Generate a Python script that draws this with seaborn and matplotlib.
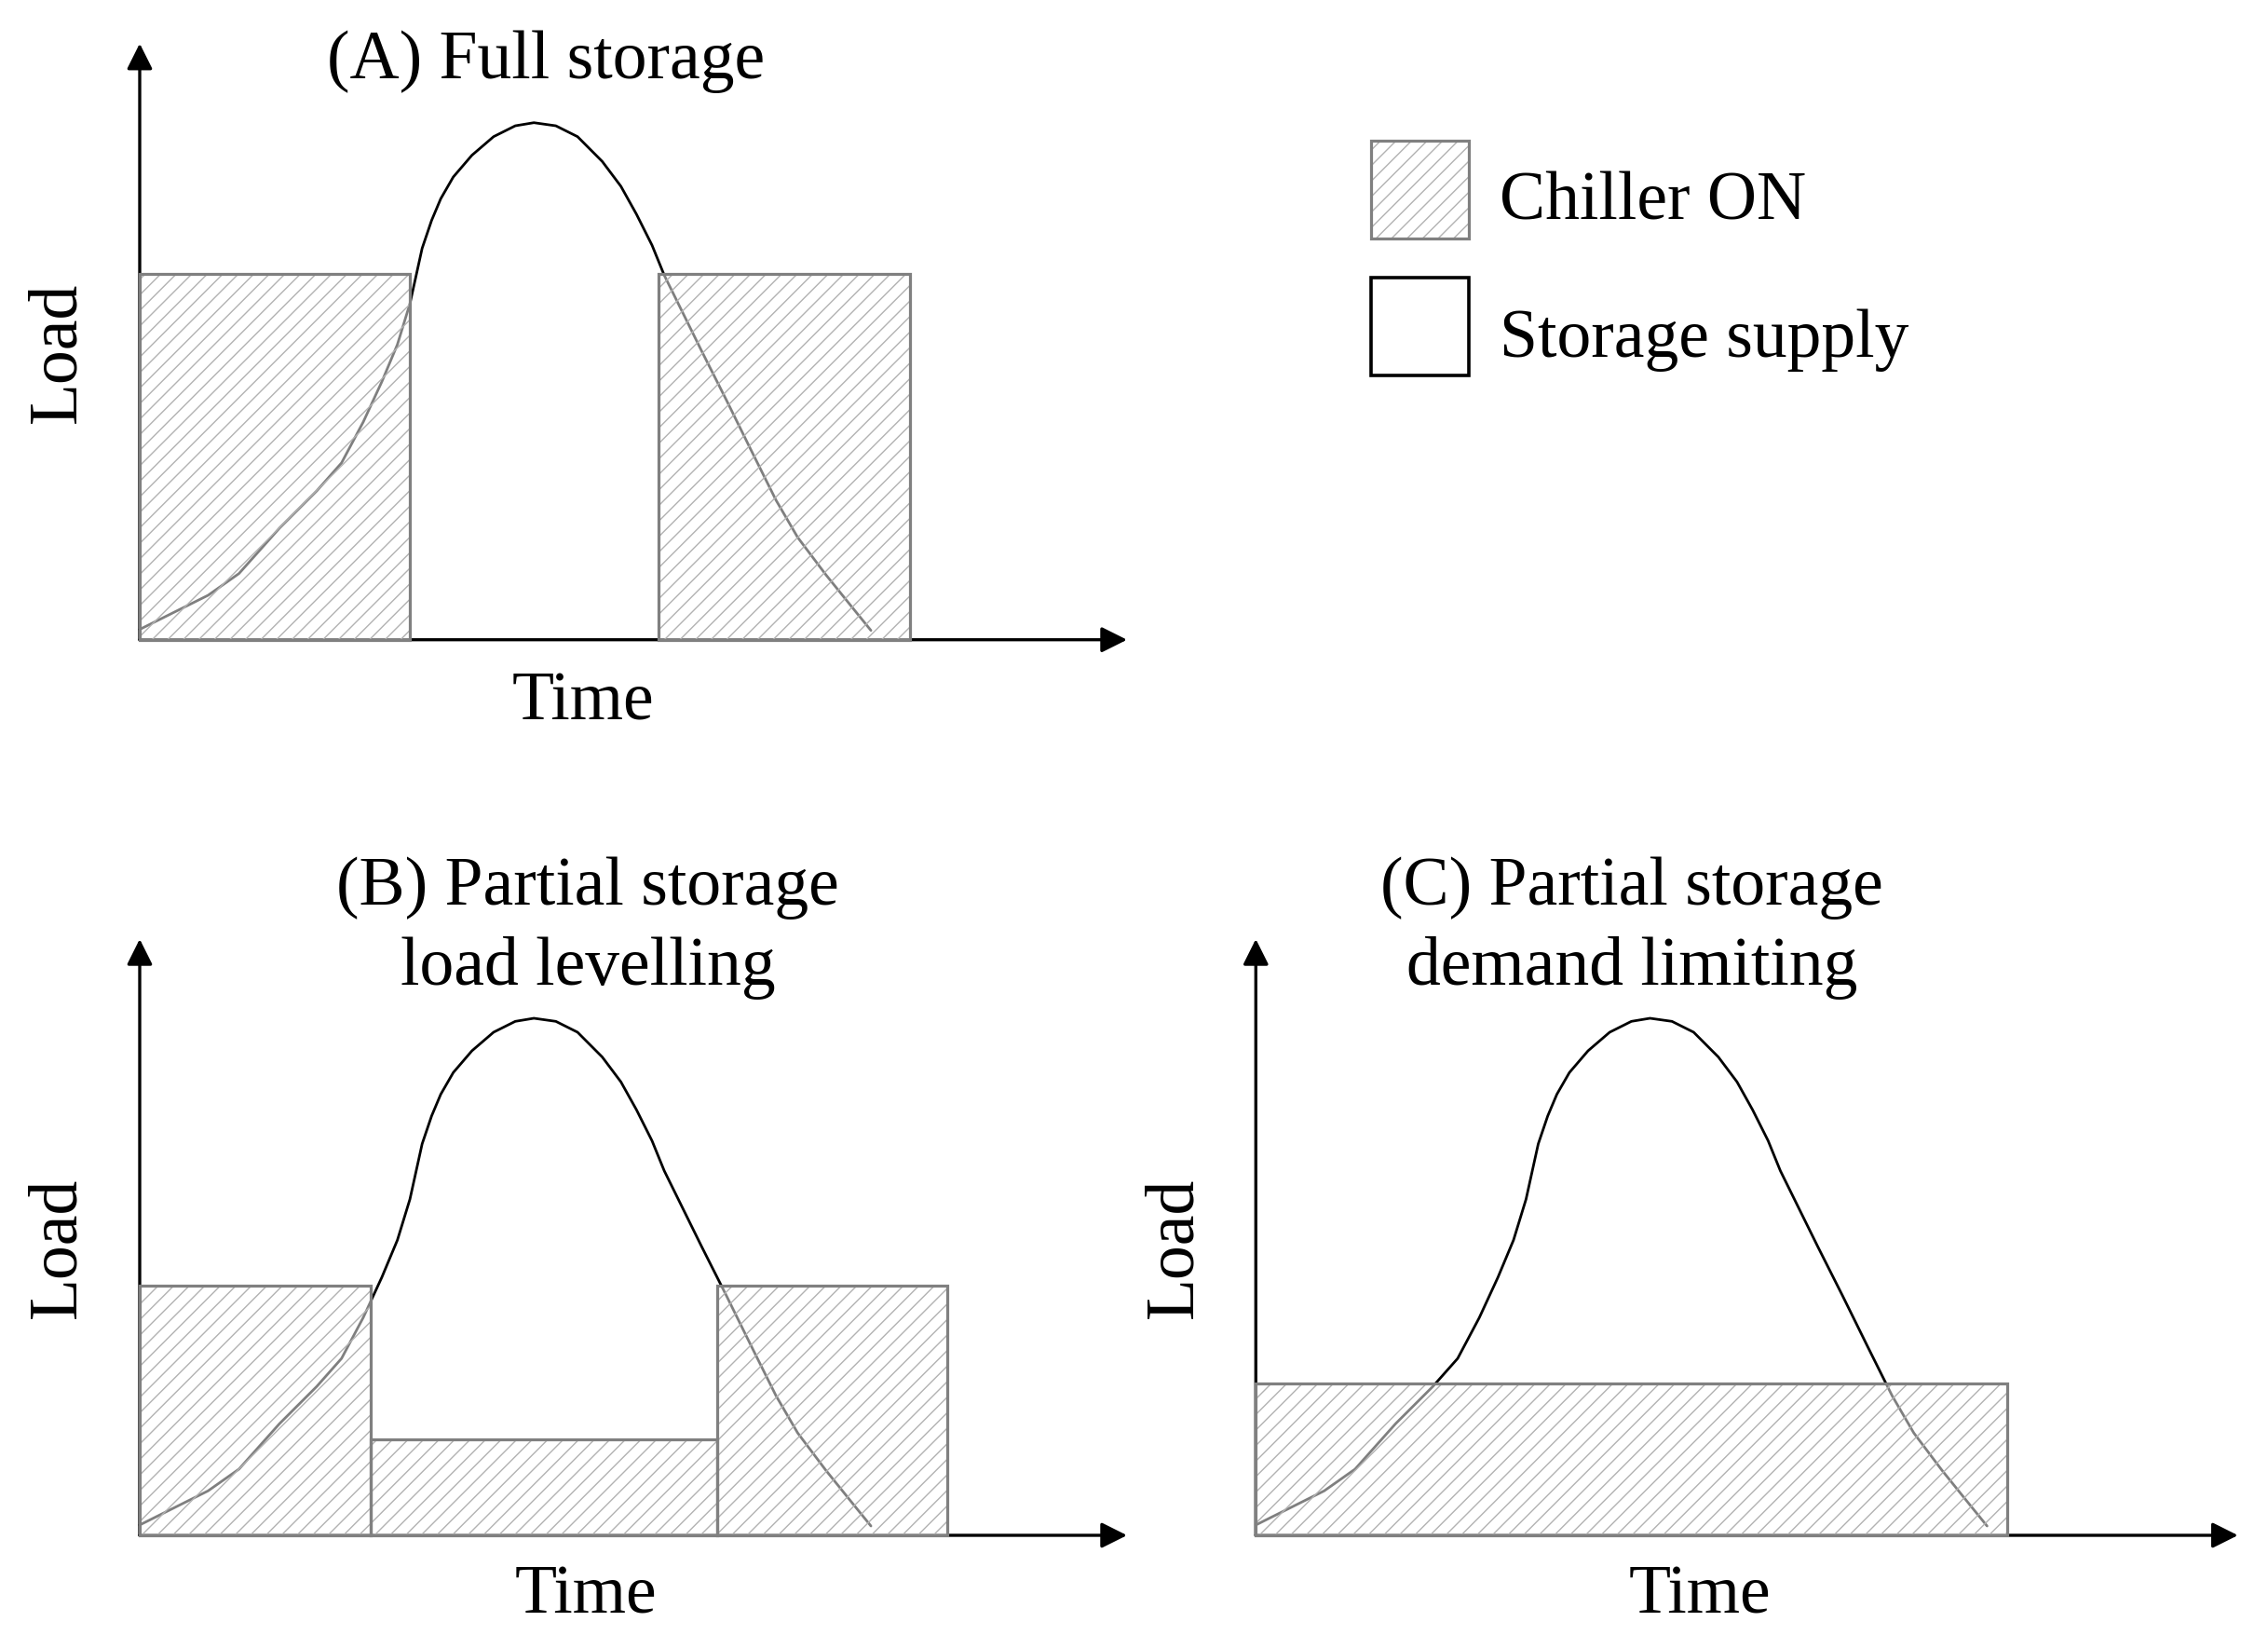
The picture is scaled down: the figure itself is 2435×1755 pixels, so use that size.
import matplotlib
matplotlib.use("Agg")
import matplotlib.pyplot as plt
import seaborn as sns
import pandas as pd
from matplotlib.patches import Patch
from matplotlib.legend_handler import HandlerTuple
from matplotlib.transforms import Affine2D

# ---- data (time in hours, load normalised to peak) ----
curve_time = [0, 2.24, 3.25, 4.58, 5.19, 5.80, 6.61, 7.32, 7.93, 8.44, 8.85, 9.25, 9.56,
              9.86, 10.27, 10.88, 11.59, 12.30, 12.91, 13.63, 14.34, 15.15, 15.76, 16.27,
              16.78, 17.18, 18.40, 19.22, 20.03, 20.84, 21.55, 22.47, 23.29, 23.95]
curve_load = [0.020, 0.086, 0.128, 0.216, 0.252, 0.288, 0.342, 0.421, 0.499, 0.571, 0.650,
              0.757, 0.811, 0.853, 0.895, 0.937, 0.973, 0.994, 1.0, 0.994, 0.973, 0.925,
              0.877, 0.823, 0.763, 0.705, 0.559, 0.463, 0.366, 0.270, 0.198, 0.126, 0.066,
              0.018]

a_left = [0, 17.0]
a_width = [8.85, 8.24]
a_height = [0.707, 0.707]

b_left = [0, 7.56, 18.91]
b_width = [7.56, 11.35, 7.55]
b_height = [0.482, 0.185, 0.482]

c_left = [0]
c_width = [24.6]
c_height = [0.294]

titles = ["(A) Full storage", "(B) Partial storage\nload levelling",
          "(C) Partial storage\ndemand limiting"]
legend_labels = ["Chiller ON", "Storage supply"]

sns.set_theme(style="white")
plt.rcParams["font.family"] = ["Liberation Serif", "DejaVu Serif"]
plt.rcParams["text.color"] = "black"
plt.rcParams["hatch.linewidth"] = 1.0

FS = 53
FW, FH = 2435.0, 1755.0
PX_X = 32.78   # pixels per hour
PX_Y = 555.0   # pixels per unit load
fig = plt.figure(figsize=(FW / 100, FH / 100), dpi=100)

curve_df = pd.DataFrame({"time": curve_time, "load": curve_load})


def make_axes(x0, y_bottom, width, height):
    ax = fig.add_axes([x0 / FW, 1 - y_bottom / FH, width / FW, height / FH])
    ax.set_xlim(0, width / PX_X)
    ax.set_ylim(0, height / PX_Y)
    return ax


axA = make_axes(150, 686.7, 1060, 640)
axB = make_axes(150, 1648.0, 1060, 640)
axC = make_axes(1348.3, 1648.0, 1054.4, 640)

panels = [
    (axA, a_left, a_width, a_height, 0.411, 0.969, 0.449, -0.107, 0.482),
    (axB, b_left, b_width, b_height, 0.454, 1.018, 0.452, -0.102, 0.482),
    (axC, c_left, c_width, c_height, 0.383, 1.018, 0.452, -0.102, 0.482),
]

for i, (ax, left, width, height, tx, ty, timex, timey, loady) in enumerate(panels):
    ax.axis("off")
    arrow_kw = dict(arrowstyle="-|>,head_length=0.6,head_width=0.3", color="black",
                    lw=2.4, mutation_scale=28, shrinkA=0, shrinkB=0)
    ax.annotate("", xy=(1, 0), xytext=(0, 0), xycoords="axes fraction",
                arrowprops=arrow_kw, zorder=1)
    ax.annotate("", xy=(0, 1), xytext=(0, 0), xycoords="axes fraction",
                arrowprops=arrow_kw, zorder=1)
    sns.lineplot(data=curve_df, x="time", y="load", ax=ax, color="black", lw=2.0,
                 sort=False, zorder=2, clip_on=False)
    ax.bar(left, height, width=width, align="edge", facecolor=(1, 1, 1, 0.5),
           edgecolor="#b2b2b2", hatch="//", linewidth=0, zorder=3)
    ax.bar(left, height, width=width, align="edge", facecolor="none",
           edgecolor="#808080", linewidth=2.3, zorder=4, clip_on=False)
    ax.text(tx, ty, titles[i], transform=ax.transAxes, ha="center", va="center",
            fontsize=FS, linespacing=1.34)
    ax.text(timex, timey, "Time", transform=ax.transAxes, ha="center", va="center",
            fontsize=FS)
    ax.text(-0.0825, loady, "Load", transform=ax.transAxes, ha="center", va="center",
            rotation=90, fontsize=FS)

# legend
hatch_patch = Patch(facecolor="white", edgecolor="#b2b2b2", hatch="//", linewidth=0)
outline_patch = Patch(facecolor="none", edgecolor="#808080", linewidth=2.3)
storage_patch = Patch(facecolor="white", edgecolor="black", linewidth=2.6)
leg = fig.legend(handles=[(hatch_patch, outline_patch), storage_patch], labels=legend_labels,
                 handler_map={tuple: HandlerTuple(ndivide=1, pad=0)},
                 loc="upper left", bbox_to_anchor=(943 / 1560, 1 - 97 / 1125),
                 frameon=False, fontsize=FS, handlelength=1.43,
                 handleheight=1.818, handletextpad=0.44, labelspacing=0.57,
                 borderpad=0, borderaxespad=0)
for t in leg.get_texts():
    t.set_transform(t.get_transform() + Affine2D().translate(0, -8))

fig.savefig("out.png", dpi=100, facecolor="white")
